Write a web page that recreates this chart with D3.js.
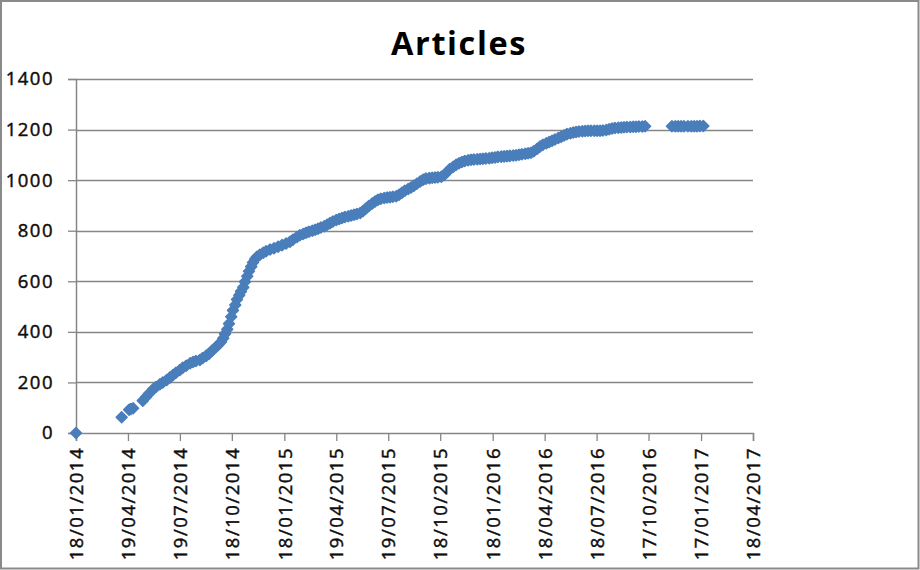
<!DOCTYPE html>
<html><head><meta charset="utf-8">
<script src="https://cdn.jsdelivr.net/npm/d3@7"></script>
<style>body{margin:0;background:#fff;overflow:hidden}</style>
</head><body><svg id="c" width="920" height="570"></svg>
<script>
const chartTitle = "Articles";
const xTickLabels = ["18/01/2014","19/04/2014","19/07/2014","18/10/2014","18/01/2015","19/04/2015","19/07/2015","18/10/2015","18/01/2016","18/04/2016","18/07/2016","17/10/2016","17/01/2017","18/04/2017"];
const yTickValues = [0,200,400,600,800,1000,1200,1400];

const dates = [
"2014-01-18","2014-04-08","2014-04-21","2014-04-24","2014-04-28",
"2014-05-15","2014-05-21","2014-05-26","2014-06-02","2014-06-07","2014-06-14","2014-06-19","2014-06-26",
"2014-07-02","2014-07-07","2014-07-12","2014-07-19","2014-07-24","2014-07-30","2014-08-06","2014-08-11","2014-08-16","2014-08-23","2014-08-28",
"2014-09-03","2014-09-08","2014-09-13","2014-09-19","2014-09-24","2014-09-29","2014-10-03","2014-10-06","2014-10-10","2014-10-13","2014-10-17","2014-10-20","2014-10-24","2014-10-27","2014-10-31",
"2014-11-03","2014-11-07","2014-11-10","2014-11-14","2014-11-17","2014-11-21","2014-11-24","2014-11-28","2014-12-01","2014-12-06","2014-12-12","2014-12-17","2014-12-24","2014-12-31",
"2015-01-07","2015-01-14","2015-01-21","2015-01-28","2015-02-02","2015-02-09","2015-02-14","2015-02-20","2015-02-25","2015-03-02","2015-03-08","2015-03-13","2015-03-18","2015-03-23","2015-03-29",
"2015-04-03","2015-04-08","2015-04-13","2015-04-19","2015-04-24","2015-04-29","2015-05-04","2015-05-10","2015-05-15","2015-05-20","2015-05-25","2015-05-31","2015-06-05","2015-06-10","2015-06-15","2015-06-21","2015-06-26",
"2015-07-01","2015-07-06","2015-07-12","2015-07-17","2015-07-22","2015-07-27","2015-08-02","2015-08-07","2015-08-12","2015-08-17","2015-08-23","2015-08-28","2015-09-02","2015-09-07","2015-09-13","2015-09-18","2015-09-23","2015-09-29",
"2015-10-04","2015-10-09","2015-10-14","2015-10-20","2015-10-25","2015-10-30","2015-11-04","2015-11-10","2015-11-15","2015-11-20","2015-11-25","2015-11-30","2015-12-06","2015-12-11","2015-12-16","2015-12-22","2015-12-27",
"2016-01-01","2016-01-06","2016-01-12","2016-01-17","2016-01-22","2016-01-27","2016-02-02","2016-02-07","2016-02-12","2016-02-17","2016-02-23","2016-02-28","2016-03-04","2016-03-09","2016-03-15","2016-03-20","2016-03-25","2016-03-30",
"2016-04-05","2016-04-10","2016-04-15","2016-04-21","2016-04-26","2016-05-01","2016-05-06","2016-05-12","2016-05-17","2016-05-22","2016-05-27","2016-06-02","2016-06-07","2016-06-12","2016-06-17","2016-06-23","2016-06-28",
"2016-07-03","2016-07-08","2016-07-14","2016-07-19","2016-07-24","2016-07-29","2016-08-04","2016-08-09","2016-08-14","2016-08-19","2016-08-25","2016-08-30","2016-09-04","2016-09-09","2016-09-15","2016-09-20","2016-09-25","2016-09-30","2016-10-06","2016-10-11",
"2016-11-27","2016-12-03","2016-12-08","2016-12-13","2016-12-18","2016-12-25","2016-12-31","2017-01-05","2017-01-10","2017-01-15","2017-01-21"
];
const values = [
0,62,92,95,98,
128,143,156,173,182,193,200,210,
220,229,238,249,258,266,276,281,285,289,297,
305,313,325,337,348,360,375,392,410,432,460,485,506,528,545,
560,576,598,620,640,658,674,688,697,705,713,719,726,731,
737,743,749,756,764,775,782,787,792,796,800,804,808,813,818,
824,830,836,842,846,850,854,857,860,863,866,870,878,888,898,908,916,
922,926,929,931,932,934,936,942,950,958,965,971,978,986,995,1002,1006,1008,
1009,1010,1011,1013,1020,1032,1044,1053,1061,1067,1072,1076,1079,1081,1082,1083,1084,
1085,1086,1087,1089,1090,1092,1093,1094,1095,1096,1097,1098,1100,1102,1104,1106,1108,1114,
1124,1133,1140,1146,1151,1156,1161,1167,1172,1177,1182,1185,1188,1190,1192,1193,1194,
1195,1195,1195,1195,1195,1196,1198,1201,1204,1206,1207,1208,1209,1210,1210,1211,1211,1212,1212,1213,
1213,1213,1213,1213,1213,1213,1213,1213,1213,1214,1214
];

const svg = d3.select("#c");
const W = 920, H = 570;
const plotL = 76, plotR = 753, plotT = 79, plotB = 433;
const parseISO = d3.timeParse("%Y-%m-%d");
const parseDMY = d3.timeParse("%d/%m/%Y");
const tickDates = xTickLabels.map(parseDMY);

const x = d3.scaleTime().domain([tickDates[0], tickDates[tickDates.length-1]]).range([plotL, plotR]);
const y = d3.scaleLinear().domain([0, 1400]).range([plotB, plotT]);

const gridColor = "#868686";
const font = "'Open Sans', 'DejaVu Sans', sans-serif";
const textColor = "#0d0d0d";

svg.append("rect").attr("x", 0).attr("y", 0).attr("width", W).attr("height", H).attr("fill", "#fff");
svg.append("rect").attr("x", 1).attr("y", 1).attr("width", W - 2.5).attr("height", H - 2.5)
  .attr("fill", "none").attr("stroke", "#8a8a8a").attr("stroke-width", 2);

// gridlines
svg.append("g").selectAll("line").data(yTickValues.filter(v => v > 0)).join("line")
  .attr("x1", plotL).attr("x2", plotR)
  .attr("y1", d => Math.round(y(d)) + 0.5).attr("y2", d => Math.round(y(d)) + 0.5)
  .attr("stroke", gridColor).attr("stroke-width", 1.3);

// y axis
const yAxis = svg.append("g").attr("transform", `translate(${plotL},0)`)
  .call(d3.axisLeft(y).tickValues(yTickValues).tickSize(8).tickPadding(14).tickFormat(d3.format("d")));
yAxis.select(".domain").attr("stroke", gridColor).attr("stroke-width", 1.5);
yAxis.selectAll(".tick line").attr("stroke", gridColor).attr("stroke-width", 1.3);
yAxis.selectAll("text").attr("font-family", font).attr("font-size", 18.5)
  .attr("fill", textColor).attr("stroke", textColor).attr("stroke-width", 0.45)
  .style("letter-spacing", "1.5px");

// x axis
const xAxis = svg.append("g").attr("transform", `translate(0,${plotB})`)
  .call(d3.axisBottom(x).tickValues(tickDates).tickSize(8).tickFormat((d, i) => xTickLabels[i]));
xAxis.select(".domain").attr("stroke", gridColor).attr("stroke-width", 1.5);
xAxis.selectAll(".tick line").attr("stroke", gridColor).attr("stroke-width", 1.3);
xAxis.selectAll("text")
  .attr("font-family", font).attr("font-size", 18.5).attr("fill", textColor)
  .attr("stroke", textColor).attr("stroke-width", 0.45)
  .style("letter-spacing", "1.5px")
  .attr("text-anchor", "end")
  .attr("transform", "rotate(-90)")
  .attr("x", -14).attr("y", 0).attr("dy", "0.36em");

// title
svg.append("text").attr("x", 459).attr("y", 55).attr("text-anchor", "middle")
  .attr("font-family", font).attr("font-weight", "bold").attr("font-size", 32.5)
  .style("letter-spacing", "1.6px").attr("fill", "#000").text(chartTitle);

// points
const pts = dates.map((d, i) => ({ date: parseISO(d), value: values[i] }));
const diamond = d3.symbol().type(d3.symbolSquare).size(60);
svg.append("g").selectAll("path").data(pts).join("path")
  .attr("d", diamond)
  .attr("transform", d => `translate(${x(d.date)},${y(d.value)}) rotate(45)`)
  .attr("fill", "#4a7ebb").attr("stroke", "#4a7ebb").attr("stroke-width", 1.5)
  .attr("stroke-linejoin", "round");
</script>
</body></html>
